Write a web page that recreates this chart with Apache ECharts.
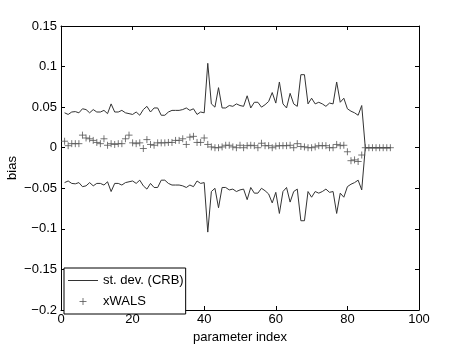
<!DOCTYPE html>
<html>
<head>
<meta charset="utf-8">
<script src="https://cdn.jsdelivr.net/npm/echarts@6/dist/echarts.min.js"></script>
<style>
  html, body { margin: 0; padding: 0; background: #fff; }
  #main { width: 463px; height: 349px; }
</style>
</head>
<body>
<div id="main"></div>
<script>
// parameter index 1..92
var stdDev = [
  0.043, 0.041, 0.044, 0.0445, 0.043, 0.048, 0.047, 0.043, 0.047, 0.044,
  0.044, 0.046, 0.042, 0.054, 0.044, 0.044, 0.046, 0.043, 0.042, 0.041,
  0.044, 0.040, 0.047, 0.051, 0.044, 0.049, 0.049, 0.040, 0.040, 0.044,
  0.046, 0.046, 0.046, 0.047, 0.049, 0.046, 0.048, 0.041, 0.044, 0.043,
  0.104, 0.054, 0.050, 0.074, 0.049, 0.049, 0.052, 0.051, 0.054, 0.052,
  0.051, 0.064, 0.049, 0.056, 0.056, 0.050, 0.053, 0.057, 0.068, 0.055,
  0.081, 0.054, 0.049, 0.067, 0.054, 0.051, 0.090, 0.090, 0.054, 0.061,
  0.054, 0.056, 0.054, 0.051, 0.055, 0.054, 0.081, 0.056, 0.061, 0.048,
  0.045, 0.043, 0.040, 0.052, 0, 0, 0, 0, 0, 0,
  0, 0
]
var xwals = [
  0.008, 0.0025, 0.005, 0.005, 0.005, 0.0155, 0.012, 0.011, 0.009, 0.0065,
  0.005, 0.011, 0.003, 0.005, 0.004, 0.005, 0.005, 0.011, 0.0155, 0.006,
  0.005, 0.006, -0.001, 0.010, 0.004, 0.003, 0.006, 0.006, 0.006, 0.0065,
  0.0065, 0.009, 0.009, 0.011, 0.004, 0.013, 0.014, 0.0065, 0.0065, 0.012,
  0.004, 0.001, 0, 0, 0.001, 0.003, 0.003, 0.001, 0, 0.003,
  0, 0.0025, 0.003, 0.0025, 0, 0.0055, 0.0025, 0.0025, 0, 0.002,
  0.0025, 0.0025, 0.0025, 0.003, 0, 0.005, 0.0015, 0.001, 0, 0,
  0.001, 0.0025, 0.0025, 0.0025, 0, 0, 0.004, 0.0025, 0.003, -0.005,
  -0.016, -0.015, -0.017, -0.009, 0, 0, 0, 0, 0, 0,
  0, 0
]
var xTicks = [0, 20, 40, 60, 80, 100]
var yTicks = [-0.2, -0.15, -0.1, -0.05, 0, 0.05, 0.1, 0.15]

var upper = [], lower = [], crosses = []
for (var i = 0; i < stdDev.length; i++) {
  upper.push([i + 1, stdDev[i]])
  lower.push([i + 1, -stdDev[i]])
}
for (var j = 0; j < xwals.length; j++) {
  crosses.push([j + 1, xwals[j]])
}

var font = 'Liberation Sans, Arial, Helvetica, sans-serif'
var plus = 'path://M0,-4 L0,4 M-4,0 L4,0'
var dash = 'path://M0,0 L30,0 L30,1 L0,1 Z'

function yFmt (v) {
  var s = String(Math.round(v * 100) / 100)
  return s.replace('-', '\u2212')
}

var myChart = echarts.init(document.getElementById('main'))
var option = {
  animation: false,
  backgroundColor: '#fff',
  textStyle: { fontFamily: font },
  grid: { left: 61, right: 44, top: 26, bottom: 39, containLabel: false, outerBoundsMode: 'none' },
  legend: {
    left: 64,
    top: 268,
    orient: 'vertical',
    backgroundColor: '#fff',
    borderColor: '#000',
    borderWidth: 1,
    borderRadius: 0,
    padding: [6, 2, 6, 4],
    itemGap: 8,
    itemWidth: 30,
    itemHeight: 7,
    textStyle: { fontFamily: font, fontSize: 13, color: '#000' },
    data: [
      { name: 'st. dev. (CRB)', icon: dash, itemStyle: { color: '#333' } },
      { name: 'xWALS', icon: plus, itemStyle: { color: 'transparent', borderColor: '#555', borderWidth: 1 } }
    ]
  },
  xAxis: [{
    type: 'value',
    min: 0, max: 100, interval: 20,
    name: 'parameter index',
    nameLocation: 'middle',
    nameGap: 18,
    nameTextStyle: { fontFamily: font, fontSize: 13, color: '#000' },
    axisLine: { show: true, onZero: false, lineStyle: { color: '#000', width: 1 } },
    axisTick: { inside: true, length: 4, lineStyle: { color: '#000' } },
    axisLabel: { fontFamily: font, fontSize: 13, color: '#000', margin: 3 },
    splitLine: { show: false }
  }, {
    type: 'value',
    position: 'top',
    min: 0, max: 100, interval: 20,
    axisLine: { show: true, onZero: false, lineStyle: { color: '#000', width: 1 } },
    axisTick: { inside: true, length: 4, lineStyle: { color: '#000' } },
    axisLabel: { show: false },
    splitLine: { show: false }
  }],
  yAxis: [{
    type: 'value',
    min: -0.2, max: 0.15, interval: 0.05,
    name: 'bias',
    nameLocation: 'middle',
    nameGap: 42,
    nameMoveOverlap: false,
    nameTextStyle: { fontFamily: font, fontSize: 13, color: '#000' },
    axisLine: { show: true, onZero: false, lineStyle: { color: '#000', width: 1 } },
    axisTick: { inside: true, length: 4, lineStyle: { color: '#000' } },
    axisLabel: { fontFamily: font, fontSize: 13, color: '#000', margin: 4, formatter: yFmt },
    splitLine: { show: false }
  }, {
    type: 'value',
    position: 'right',
    min: -0.2, max: 0.15, interval: 0.05,
    axisLine: { show: true, onZero: false, lineStyle: { color: '#000', width: 1 } },
    axisTick: { inside: true, length: 4, lineStyle: { color: '#000' } },
    axisLabel: { show: false },
    splitLine: { show: false }
  }],
  series: [
    {
      name: 'st. dev. (CRB)',
      type: 'line',
      data: upper,
      symbol: 'none',
      itemStyle: { color: '#333' },
      lineStyle: { color: '#333', width: 1 }
    },
    {
      name: 'st. dev. (CRB)',
      type: 'line',
      data: lower,
      symbol: 'none',
      itemStyle: { color: '#333' },
      lineStyle: { color: '#333', width: 1 }
    },
    {
      name: 'xWALS',
      type: 'scatter',
      data: crosses,
      symbol: plus,
      symbolSize: 7,
      itemStyle: { color: 'transparent', borderColor: '#555', borderWidth: 1 },
      z: 3
    }
  ]
}
myChart.setOption(option)
</script>
</body>
</html>
